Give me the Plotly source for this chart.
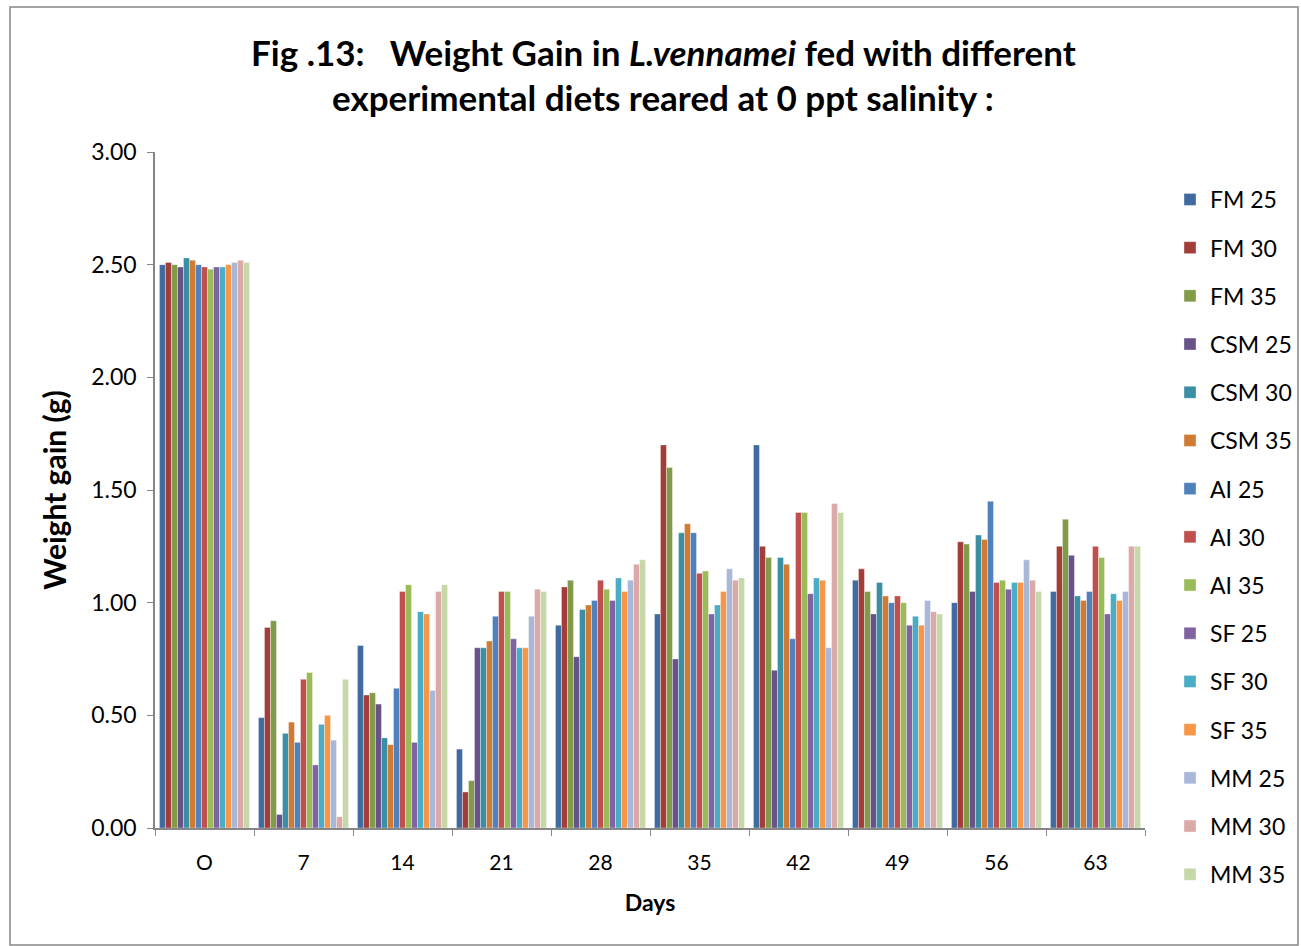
import plotly.graph_objects as go

# Sampling days (x-axis categories)
days = ["O", "7", "14", "21", "28", "35", "42", "49", "56", "63"]

# Diet series names
series_names = ["FM 25", "FM 30", "FM 35", "CSM 25", "CSM 30", "CSM 35",
                "AI 25", "AI 30", "AI 35", "SF 25", "SF 30", "SF 35",
                "MM 25", "MM 30", "MM 35"]

# Weight gain (g) per diet, one value per day
fm25 = [2.50, 0.49, 0.81, 0.35, 0.90, 0.95, 1.70, 1.10, 1.00, 1.05]
fm30 = [2.51, 0.89, 0.59, 0.16, 1.07, 1.70, 1.25, 1.15, 1.27, 1.25]
fm35 = [2.50, 0.92, 0.60, 0.21, 1.10, 1.60, 1.20, 1.05, 1.26, 1.37]
csm25 = [2.49, 0.06, 0.55, 0.80, 0.76, 0.75, 0.70, 0.95, 1.05, 1.21]
csm30 = [2.53, 0.42, 0.40, 0.80, 0.97, 1.31, 1.20, 1.09, 1.30, 1.03]
csm35 = [2.52, 0.47, 0.37, 0.83, 0.99, 1.35, 1.17, 1.03, 1.28, 1.01]
ai25 = [2.50, 0.38, 0.62, 0.94, 1.01, 1.31, 0.84, 1.00, 1.45, 1.05]
ai30 = [2.49, 0.66, 1.05, 1.05, 1.10, 1.13, 1.40, 1.03, 1.09, 1.25]
ai35 = [2.48, 0.69, 1.08, 1.05, 1.06, 1.14, 1.40, 1.00, 1.10, 1.20]
sf25 = [2.49, 0.28, 0.38, 0.84, 1.01, 0.95, 1.04, 0.90, 1.06, 0.95]
sf30 = [2.49, 0.46, 0.96, 0.80, 1.11, 0.99, 1.11, 0.94, 1.09, 1.04]
sf35 = [2.50, 0.50, 0.95, 0.80, 1.05, 1.05, 1.10, 0.90, 1.09, 1.01]
mm25 = [2.51, 0.39, 0.61, 0.94, 1.10, 1.15, 0.80, 1.01, 1.19, 1.05]
mm30 = [2.52, 0.05, 1.05, 1.06, 1.17, 1.10, 1.44, 0.96, 1.10, 1.25]
mm35 = [2.51, 0.66, 1.08, 1.05, 1.19, 1.11, 1.40, 0.95, 1.05, 1.25]

series_values = [fm25, fm30, fm35, csm25, csm30, csm35, ai25, ai30, ai35,
                 sf25, sf30, sf35, mm25, mm30, mm35]

colors = ["#3F6BA0", "#A33D3A", "#819B49", "#68528A", "#3A8FA5", "#CF7B33",
          "#4F81BD", "#C0504D", "#9BBB59", "#8064A2", "#4BACC6", "#F79646",
          "#A9B8D8", "#DBA9A8", "#C6D7A8"]

FONT = "Lato, Carlito, Calibri, sans-serif"

fig = go.Figure()
for name, vals, col in zip(series_names, series_values, colors):
    fig.add_trace(go.Bar(
        x=days, y=vals, name=name, legendgroup=name,
        marker=dict(color=col, line=dict(color="rgba(255,255,255,0.6)", width=0.6)),
    ))

W, H = 1301, 946
L, R, T, B = 155, 156, 152, 118
pw, ph = W - L - R, H - T - B

def px_x(px):
    return (px - L) / pw

def px_y(py):
    return (H - B - py) / ph

fig.update_layout(
    width=W, height=H,
    margin=dict(l=L, r=R, t=T, b=B, autoexpand=False),
    paper_bgcolor="white", plot_bgcolor="white",
    barmode="group", bargap=0.09, bargroupgap=0,
    font=dict(family=FONT, size=22, color="black"),
    xaxis=dict(
        title=dict(text="<b>Days</b>", font=dict(size=23), standoff=22),
        showline=True, linecolor="#868686", linewidth=1.5,
        ticks="outside", tickson="boundaries", ticklen=6, tickcolor="#868686",
        ticklabelstandoff=15,
        tickfont=dict(size=21), showgrid=False,
    ),
    yaxis=dict(
        title=dict(text="<b>Weight gain (g)</b>", font=dict(size=30), standoff=16),
        range=[0, 3], dtick=0.5, tickformat=".2f",
        showline=True, linecolor="#868686", linewidth=1.5,
        ticks="outside", ticklen=6, tickcolor="#868686",
        ticklabelstandoff=6,
        tickfont=dict(size=23), showgrid=False, zeroline=False,
    ),
    legend=dict(
        xref="container", yref="container",
        x=1170 / W, xanchor="left", y=1 - 178 / H, yanchor="top",
        font=dict(size=23), tracegroupgap=15.3, itemwidth=30,
        maxheight=780,
        bgcolor="rgba(0,0,0,0)",
    ),
    showlegend=True,
)

# Two-line chart title
title_lines = [
    "<b>Fig .13:   Weight Gain in <i>L.vennamei</i> fed with different</b>",
    "<b>experimental diets reared at 0 ppt salinity :</b>",
]
for line, cy in zip(title_lines, [52, 97]):
    fig.add_annotation(
        text=line, xref="paper", yref="paper",
        x=px_x(663), y=px_y(cy), xanchor="center", yanchor="middle",
        showarrow=False, font=dict(family=FONT, size=35, color="black"),
    )

# Outer chart border
fig.add_shape(type="rect", xref="paper", yref="paper",
              x0=px_x(10), x1=px_x(1298), y0=px_y(945), y1=px_y(7),
              line=dict(color="#868686", width=1.5), fillcolor="rgba(0,0,0,0)",
              layer="below")

fig.write_html("out.html")
